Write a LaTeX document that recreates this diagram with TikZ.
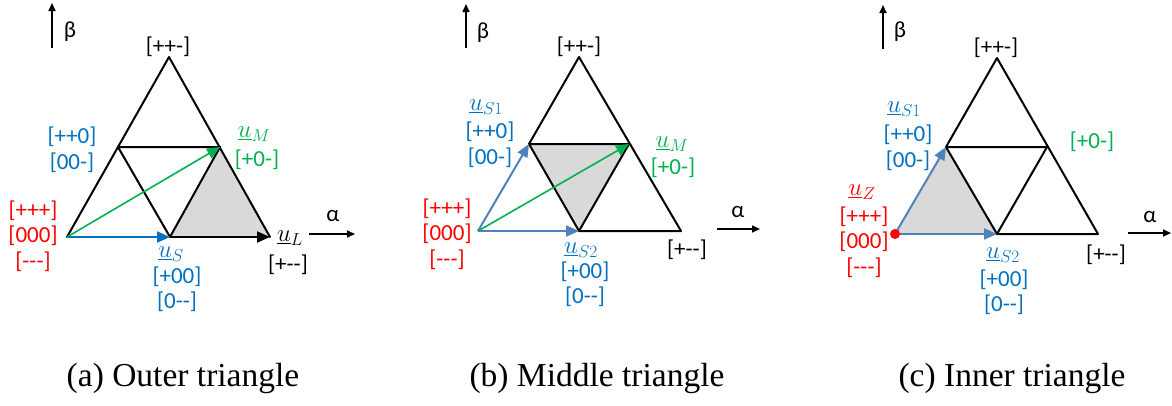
\documentclass[tikz,border=0pt]{standalone}
\usepackage{fontspec}
\newfontfamily\labfont{Carlito}
\newfontfamily\capfont{Liberation Serif}
\usetikzlibrary{arrows.meta}
\definecolor{lblue}{HTML}{0070C0}
\definecolor{ablue}{HTML}{4F81BD}
\definecolor{lgreen}{HTML}{00B050}
\definecolor{lred}{HTML}{FF0000}
\definecolor{shadegray}{HTML}{D9D9D9}
\begin{document}
\begin{tikzpicture}[x=1pt,y=-1pt,
  lab/.style={font=\labfont\fontsize{23}{25.5}\selectfont, inner sep=0pt, align=center},
  mth/.style={font=\fontsize{27}{30}\selectfont, inner sep=0pt},
  edge/.style={line width=2pt, line join=round, line cap=round},
  vecarrow/.style={line width=2pt, -{Triangle[length=13pt,width=11pt]}},
  axisarrow/.style={line width=1.6pt, -{Triangle[length=8pt,width=7pt]}},
  capt/.style={font=\capfont\fontsize{33.5}{36}\selectfont, inner sep=0pt}]
\useasboundingbox (0,0) rectangle (1172,405);

% ---------------- Panel (a) ----------------
\coordinate (aO) at (67,237);
\coordinate (aT) at (169,57);
\coordinate (aR) at (270,237);
\coordinate (aML) at (118,147);
\coordinate (aMR) at (220,147);
\coordinate (aBM) at (170,237);
\fill[shadegray] (aBM) -- (aMR) -- (aR) -- cycle;
\draw[edge] (aO) -- (aT) -- (aR);
\draw[edge] (aML) -- (aMR) -- (aBM) -- cycle;
\draw[vecarrow, black] (aBM) -- (aR);
\draw[vecarrow, lblue] (aO) -- (aBM);
\draw[vecarrow, lgreen, line width=1.6pt] (aO) -- (aMR);
\coordinate (aBy0) at (52,48); \coordinate (aBy1) at (52,3);
\draw[axisarrow] (aBy0) -- (aBy1);
\node[lab] (aBeta) at (70,32) {β};
\coordinate (aAx0) at (309,234); \coordinate (aAx1) at (355,234);
\draw[axisarrow] (aAx0) -- (aAx1);
\node[lab] (aAlpha) at (333,216) {α};
\node[lab] (aTop) at (168,47) {[++-]};
\node[lab, text=lblue] (aL1) at (72,150) {[++0]\\{}[00-]};
\node[mth, text=lgreen] (aUM) at (254,134) {$\underline{u}_{M}$};
\node[lab, text=lgreen] (aL2) at (257,160) {[+0-]};
\node[lab, text=lred] (aL3) at (33,236) {[+++]\\{}[000]\\{}[---]};
\node[mth, text=lblue] (aUS) at (171,254) {$\underline{u}_{S}$};
\node[lab, text=lblue] (aL4) at (177,289) {[+00]\\{}[0--]};
\node[mth] (aUL) at (290,238) {$\underline{u}_{L}$};
\node[lab] (aL5) at (288,265) {[+--]};
\node[capt] (aCap) at (183,378) {(a) Outer triangle};

% ---------------- Panel (b) ----------------
\coordinate (bO) at (478,231);
\coordinate (bT) at (579,57);
\coordinate (bR) at (681,231);
\coordinate (bML) at (529,144);
\coordinate (bMR) at (629,144);
\coordinate (bBM) at (579,231);
\fill[shadegray] (bML) -- (bMR) -- (bBM) -- cycle;
\draw[edge] (bML) -- (bT) -- (bR) -- (bBM);
\draw[edge] (bML) -- (bMR) -- (bBM) -- cycle;
\draw[vecarrow, ablue] (bO) -- (bML);
\draw[vecarrow, ablue] (bO) -- (bBM);
\draw[vecarrow, lgreen, line width=1.6pt] (bO) -- (bMR);
\coordinate (bBy0) at (466,48); \coordinate (bBy1) at (466,4);
\draw[axisarrow] (bBy0) -- (bBy1);
\node[lab] (bBeta) at (483,33) {β};
\coordinate (bAx0) at (717,229); \coordinate (bAx1) at (760,229);
\draw[axisarrow] (bAx0) -- (bAx1);
\node[lab] (bAlpha) at (738,212) {α};
\node[lab] (bTop) at (579,47) {[++-]};
\node[mth, text=lblue] (bUS1) at (486,107) {$\underline{u}_{S1}$};
\node[lab, text=lblue] (bL1) at (490,145) {[++0]\\{}[00-]};
\node[mth, text=lgreen] (bUM) at (672,144) {$\underline{u}_{M}$};
\node[lab, text=lgreen] (bL2) at (673,168) {[+0-]};
\node[lab, text=lred] (bL3) at (447,234) {[+++]\\{}[000]\\{}[---]};
\node[mth, text=lblue] (bUS2) at (581,250) {$\underline{u}_{S2}$};
\node[lab, text=lblue] (bL4) at (585,284) {[+00]\\{}[0--]};
\node[lab] (bL5) at (687,250) {[+--]};
\node[capt] (bCap) at (597,378) {(b) Middle triangle};

% ---------------- Panel (c) ----------------
\coordinate (cO) at (895,234);
\coordinate (cT) at (997,58);
\coordinate (cR) at (1098,234);
\coordinate (cML) at (946,147);
\coordinate (cMR) at (1047,147);
\coordinate (cBM) at (997,234);
\fill[shadegray] (cO) -- (cML) -- (cBM) -- cycle;
\draw[edge] (cML) -- (cT) -- (cR) -- (cBM);
\draw[edge] (cML) -- (cMR) -- (cBM) -- cycle;
\draw[vecarrow, ablue] (cO) -- (cML);
\draw[vecarrow, ablue] (cO) -- (cBM);
\fill[lred] (cO) circle (5);
\coordinate (cBy0) at (883,49); \coordinate (cBy1) at (883,5);
\draw[axisarrow] (cBy0) -- (cBy1);
\node[lab] (cBeta) at (900,32) {β};
\coordinate (cAx0) at (1128,233); \coordinate (cAx1) at (1171,233);
\draw[axisarrow] (cAx0) -- (cAx1);
\node[lab] (cAlpha) at (1150,217) {α};
\node[lab] (cTop) at (996,48) {[++-]};
\node[mth, text=lblue] (cUS1) at (904,109) {$\underline{u}_{S1}$};
\node[lab, text=lblue] (cL1) at (908,148) {[++0]\\{}[00-]};
\node[lab, text=lgreen] (cL2) at (1092,142) {[+0-]};
\node[mth, text=lred] (cUZ) at (862,192) {$\underline{u}_{Z}$};
\node[lab, text=lred] (cL3) at (864,242) {[+++]\\{}[000]\\{}[---]};
\node[mth, text=lblue] (cUS2) at (1003,255) {$\underline{u}_{S2}$};
\node[lab, text=lblue] (cL4) at (1004,292) {[+00]\\{}[0--]};
\node[lab] (cL5) at (1106,255) {[+--]};
\node[capt] (cCap) at (1012,378) {(c) Inner triangle};
\end{tikzpicture}
\end{document}
